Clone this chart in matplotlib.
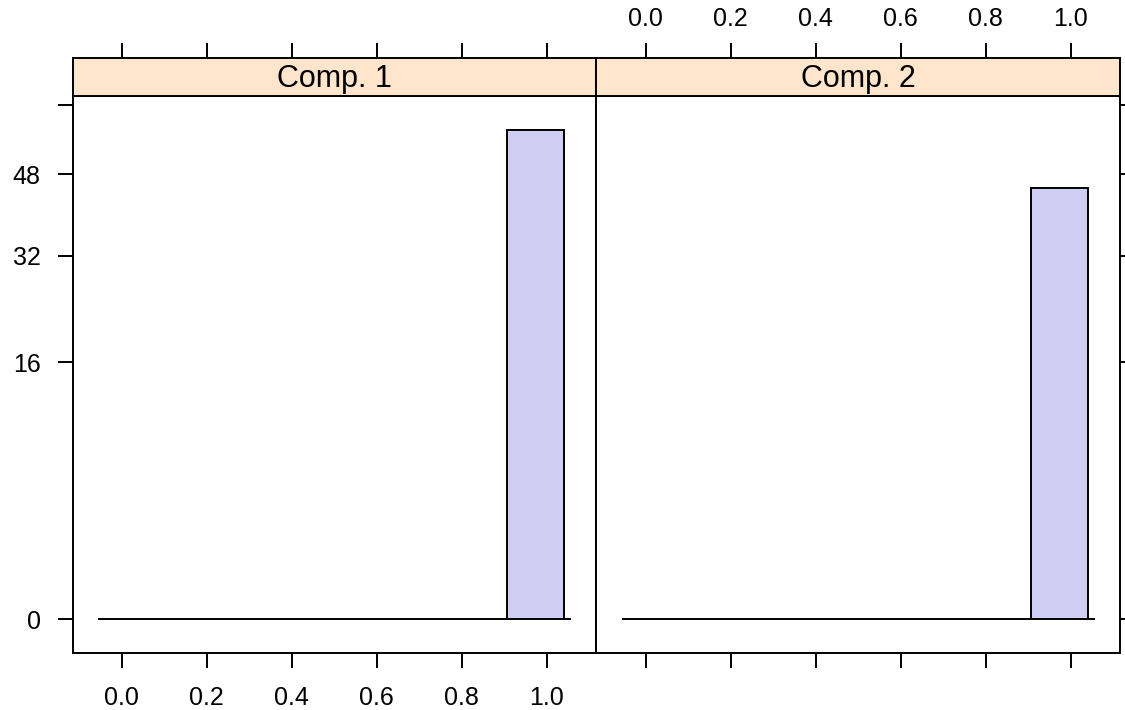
import numpy as np
import matplotlib.pyplot as plt
from matplotlib.ticker import FixedLocator

plt.rcParams['font.family'] = ['Liberation Sans', 'DejaVu Sans']

# data
comps = ["Comp. 1", "Comp. 2"]
edges = [-0.055, 0.906, 1.041, 1.0565]
counts = {"Comp. 1": [0, 58, 0], "Comp. 2": [0, 45, 0]}
xticks = [0.0, 0.2, 0.4, 0.6, 0.8, 1.0]
xlabels = ["0.0", "0.2", "0.4", "0.6", "0.8", "1.0"]
yticks = [0, 16, 32, 48, 64]
ylabels = ["0", "16", "32", "48", ""]

def fwd(y):
    y = np.asarray(y, dtype=float)
    return np.sign(y) * np.sqrt(np.abs(y))

def inv(y):
    y = np.asarray(y, dtype=float)
    return np.sign(y) * y**2

W, H = 1125, 710
fig = plt.figure(figsize=(W/100, H/100), dpi=100)

px_left = [72.5, 596.3]
px_w = 523.8
p_bot, p_top, s_top = 653.3, 95.7, 58.0

bar_col = '#D1CEF3'
strip_col = '#FFE5CC'
tl = 10.8
lw = 1.4

for i, c in enumerate(comps):
    ax = fig.add_axes([px_left[i]/W, (H-p_bot)/H, px_w/W, (p_bot-p_top)/H])
    sax = fig.add_axes([px_left[i]/W, (H-p_top)/H, px_w/W, (p_top-s_top)/H], sharex=ax)

    lefts = np.array(edges[:-1])
    widths = np.diff(edges)
    ax.bar(lefts, counts[c], width=widths, align='edge', color=bar_col,
           edgecolor='black', linewidth=lw)

    ax.set_yscale('function', functions=(fwd, inv))
    ax.set_ylim(-0.28, 66.45)
    ax.set_xlim(-0.1158, 1.1167)

    ax.xaxis.set_major_locator(FixedLocator(xticks))
    ax.yaxis.set_major_locator(FixedLocator(yticks))
    ax.yaxis.set_minor_locator(FixedLocator([]))
    ax.tick_params(direction='out', length=tl, width=lw, labelsize=18,
                   colors='black')
    ax.tick_params(axis='x', pad=12.5)
    ax.tick_params(axis='y', pad=12)
    ax.tick_params(axis='y', which='minor', length=0)
    if i == 0:
        ax.set_xticklabels(xlabels)
        ax.set_yticklabels(ylabels)
        ax.tick_params(axis='y', left=True, right=False, labelleft=True)
    else:
        ax.tick_params(axis='x', labelbottom=False)
        ax.tick_params(axis='y', left=False, right=True, labelleft=False)

    for sp in ax.spines.values():
        sp.set_linewidth(lw)

    sax.set_facecolor(strip_col)
    sax.set_yticks([])
    sax.tick_params(axis='x', bottom=False, labelbottom=False, top=True,
                    direction='out', length=tl, width=lw, labelsize=18, pad=9)
    sax.tick_params(axis='x', labeltop=(i == 1))
    for sp in sax.spines.values():
        sp.set_linewidth(lw)
    sax.text(0.5, 0.45, c, transform=sax.transAxes, ha='center', va='center',
             fontsize=22)

fig.savefig('out.png', dpi=100)
